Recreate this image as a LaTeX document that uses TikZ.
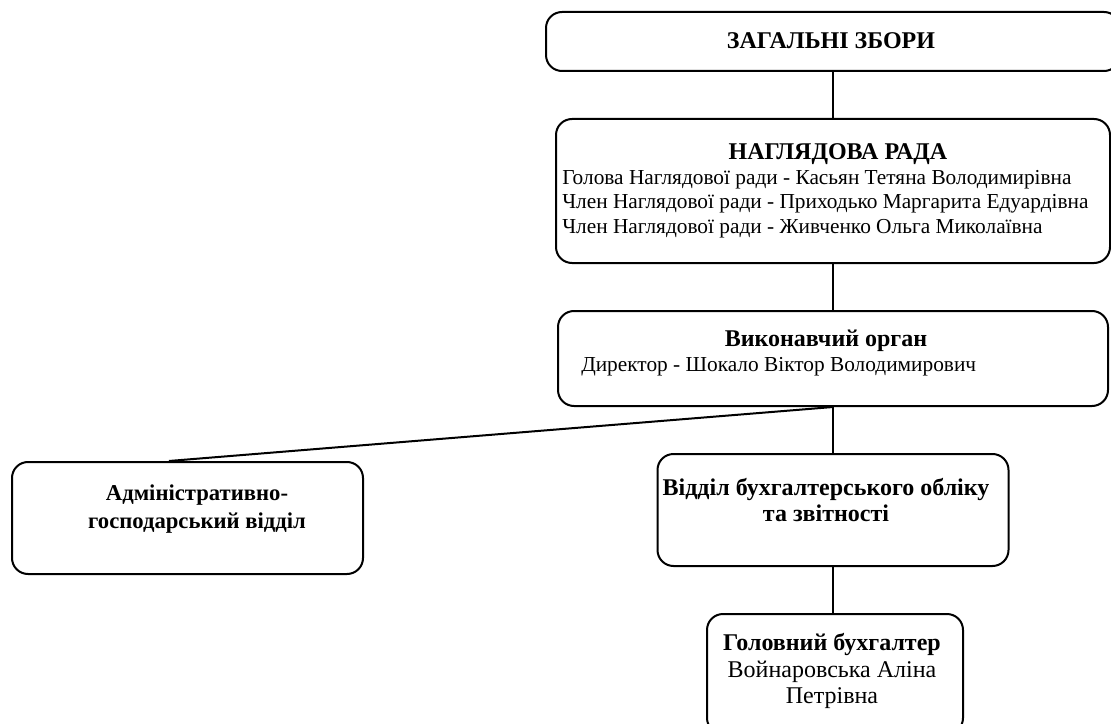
\documentclass[tikz,border=0pt]{standalone}
\usepackage{fontspec}
\setmainfont{Liberation Serif}
\usetikzlibrary{positioning}

\tikzset{
	unitbox/.style={draw, rounded corners=12pt, line width=1.5pt, anchor=north, inner sep=0pt},
	head/.style={font=\fontsize{18}{19}\selectfont\bfseries, align=center, inner sep=0pt},
	smallhead/.style={font=\fontsize{17}{21}\selectfont\bfseries, align=center, inner sep=0pt},
	body/.style={font=\fontsize{16}{18.5}\selectfont, align=left, inner sep=0pt},
	bigbody/.style={font=\fontsize{18}{19}\selectfont, align=center, inner sep=0pt},
	link/.style={line width=1.5pt},
}

\begin{document}
\begin{tikzpicture}[x=0.75pt, y=-0.75pt]
	\useasboundingbox (0,0) rectangle (1111,724);
	\clip (0,0) rectangle (1111,724);

	\node[unitbox, minimum width=430.5pt, minimum height=44.25pt] (zb) at (833,11) {};
	\node[unitbox, minimum width=415.5pt, minimum height=108pt] (rada) at (833,118) {};
	\node[unitbox, minimum width=412.5pt, minimum height=71.25pt] (org) at (833,310) {};
	\node[unitbox, minimum width=263.25pt, minimum height=84pt] (adm) at (187.5,461) {};
	\node[unitbox, minimum width=263.25pt, minimum height=84pt] (bux) at (833,453) {};
	\node[unitbox, minimum width=192pt, minimum height=90pt] (glav) at (835,613) {};

	\node[head] (zb-t) at (831,41) {ЗАГАЛЬНІ ЗБОРИ};
	\node[head] (rada-h) at (838,154) {НАГЛЯДОВА РАДА};
	\node[body, anchor=west] (rada-b) at (562,204) {Голова Наглядової ради - Касьян Тетяна Володимирівна\\
		Член Наглядової ради - Приходько Маргарита Едуардівна\\
		Член Наглядової ради - Живченко Ольга Миколаївна};
	\node[head] (org-h) at (826,341) {Виконавчий орган};
	\node[body, anchor=west] (org-b) at (581,367) {Директор - Шокало Віктор Володимирович};
	\node[smallhead] (adm-t) at (197,509) {Адміністративно-\\господарський відділ};
	\node[head] (bux-t) at (826,500) {Відділ бухгалтерського обліку\\та звітності};
	\node[head] (glav-h) at (832,644) {Головний бухгалтер};
	\node[bigbody] (glav-b) at (832,685) {Войнаровська Аліна\\Петрівна};

	\coordinate (adm-in) at ([xshift=-14pt]adm.north);
	\draw[link] (zb.south) -- (rada.north);
	\draw[link] (rada.south) -- (org.north);
	\draw[link] (org.south) -- (adm-in);
	\draw[link] (org.south) -- (bux.north);
	\draw[link] (bux.south) -- (bux.south |- glav.north);
\end{tikzpicture}
\end{document}
